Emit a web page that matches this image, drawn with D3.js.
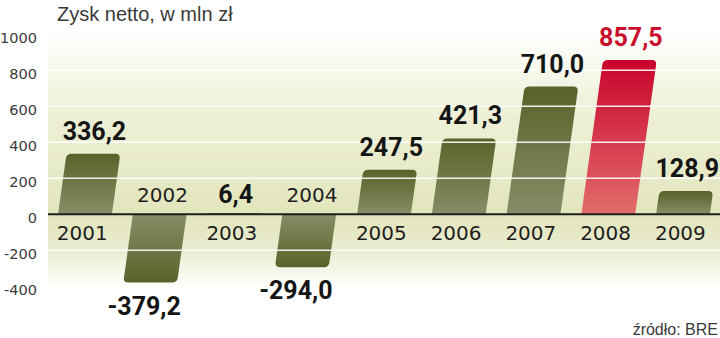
<!DOCTYPE html>
<html><head><meta charset="utf-8">
<script src="https://cdn.jsdelivr.net/npm/d3@7"></script>
<style>
html,body{margin:0;padding:0;background:#fff;}
svg{display:block;}
</style></head>
<body>
<svg id="chart" width="720" height="338"></svg>
<script>
const years = ["2001","2002","2003","2004","2005","2006","2007","2008","2009"];
const values = [336.2, -379.2, 6.4, -294.0, 247.5, 421.3, 710.0, 857.5, 128.9];
const highlight = ["2008"];
const yTicks = [-400, -200, 0, 200, 400, 600, 800, 1000];
const titleText = "Zysk netto, w mln zł";
const sourceText = "źródło: BRE";

const svg = d3.select("#chart");
const W = 720, H = 338;
const panelX = 48;
const skew = 0.14;
const radius = 5;

const y = d3.scaleLinear().domain([-400, 1000]).range([286.3, 34.3]);
const x = d3.scaleBand().domain(years).range([47.6, 720.4]).paddingInner(0.28).paddingOuter(0.14);
const bw = x.bandwidth();
const y0 = y(0);
const fmt = v => d3.format(".1f")(v).replace(".", ",").replace("\u2212", "-");

const defs = svg.append("defs");
const bg = defs.append("linearGradient").attr("id","bg").attr("gradientUnits","userSpaceOnUse")
  .attr("x1",0).attr("x2",0).attr("y1",30).attr("y2",288);
[[0,"#ffffff"],[0.3,"#eff1d9"],[0.72,"#e2e5bb"],[0.85,"#eaecd0"],[1,"#ffffff"]].forEach(s=>
  bg.append("stop").attr("offset",s[0]).attr("stop-color",s[1]));

function grad(id, dark, light, reversed){
  const g = defs.append("linearGradient").attr("id",id).attr("x1",0).attr("x2",0)
    .attr("y1", reversed?1:0).attr("y2", reversed?0:1);
  g.append("stop").attr("offset",0).attr("stop-color",dark);
  g.append("stop").attr("offset",1).attr("stop-color",light);
}
grad("gPos","#58632a","#858e66",false);
grad("gNeg","#58632a","#858e66",true);
grad("rPos","#c9042c","#e26d6b",false);

// panel
svg.append("rect").attr("x",panelX).attr("y",30).attr("width",W-panelX).attr("height",258).attr("fill","url(#bg)");

// title
svg.append("text").attr("x",57).attr("y",21).text(titleText)
  .attr("font-family","'Liberation Sans', Arial, sans-serif").attr("font-size",20).attr("fill","#3a3a3a");

// y axis labels
const yAxis = d3.axisLeft(y).tickValues(yTicks).tickSize(0).tickPadding(0).tickFormat(d=>String(d));
const ag = svg.append("g").attr("transform","translate(37,0)").call(yAxis);
ag.select(".domain").remove();
ag.selectAll("text").attr("font-family","'DejaVu Sans', sans-serif").attr("font-size",14.5)
  .attr("fill","#3c3c3c").attr("dy","0.55em");

// bars
function barPath(cx, v){
  const y1 = y(v);
  const h = y0 - y1;
  const cFar = cx + skew*h;
  const hw = bw/2;
  const r = Math.min(radius, Math.abs(h)/2);
  const s = Math.sign(h) || 1;
  const bl = [cx-hw, y0], br = [cx+hw, y0];
  const fl = [cFar-hw, y1], fr = [cFar+hw, y1];
  const dx = skew*r*s, dy = r*s;
  const p = d3.path();
  p.moveTo(bl[0], bl[1]);
  p.lineTo(fl[0] - dx, fl[1] + dy);
  p.quadraticCurveTo(fl[0], fl[1], fl[0] + r, fl[1]);
  p.lineTo(fr[0] - r, fr[1]);
  p.quadraticCurveTo(fr[0], fr[1], fr[0] - dx, fr[1] + dy);
  p.lineTo(br[0], br[1]);
  p.closePath();
  return p.toString();
}
const data = years.map((yr,i)=>({year:yr, v:values[i], cx: x(yr)+bw/2}));

svg.append("g").selectAll("path").data(data).join("path")
  .attr("d", d => barPath(d.cx, d.v))
  .attr("fill", d => highlight.includes(d.year) ? "url(#rPos)" : (d.v>=0 ? "url(#gPos)" : "url(#gNeg)"));

// gridlines (on top of bars)
svg.append("g").selectAll("line").data(yTicks.filter(t=>t!==0)).join("line")
  .attr("x1",panelX).attr("x2",W).attr("y1",d=>y(d)).attr("y2",d=>y(d))
  .attr("stroke","#ffffff").attr("stroke-width",1.6).attr("stroke-opacity",0.9);

// zero line
svg.append("line").attr("x1",panelX).attr("x2",W).attr("y1",y0).attr("y2",y0)
  .attr("stroke","#1e1e1e").attr("stroke-width",2);

// year labels
svg.append("g").selectAll("text").data(data).join("text")
  .attr("x", d => d.v>=0 ? d.cx - skew*19 : d.cx + skew*20)
  .attr("y", d => d.v>=0 ? y0 + 26 : y0 - 12.5)
  .attr("text-anchor","middle")
  .attr("font-family","'DejaVu Sans', sans-serif").attr("font-size",20).attr("fill","#1e1e1e")
  .text(d=>d.year);

// value labels
svg.append("g").selectAll("text").data(data).join("text")
  .attr("x", d => {
    const h = y0 - y(d.v);
    return d.cx + skew*h + (d.v<0 ? -6 : 1);
  })
  .attr("y", d => {
    const y1 = y(d.v);
    if (d.v < 0) return y1 + 32;
    return (y0 - y1 < 10) ? y0 - 11 : y1 - 14;
  })
  .attr("text-anchor","middle")
  .attr("font-family","Roboto, 'DejaVu Sans Condensed', sans-serif").attr("font-weight",700)
  .attr("font-size",25)
  .attr("fill", d => highlight.includes(d.year) ? "#c8102e" : "#151515")
  .text(d => fmt(d.v));

// source
svg.append("text").attr("x",718).attr("y",335).attr("text-anchor","end")
  .attr("font-family","'Liberation Sans', Arial, sans-serif").attr("font-size",16).attr("fill","#3a3a3a")
  .text(sourceText);
</script>
</body></html>
